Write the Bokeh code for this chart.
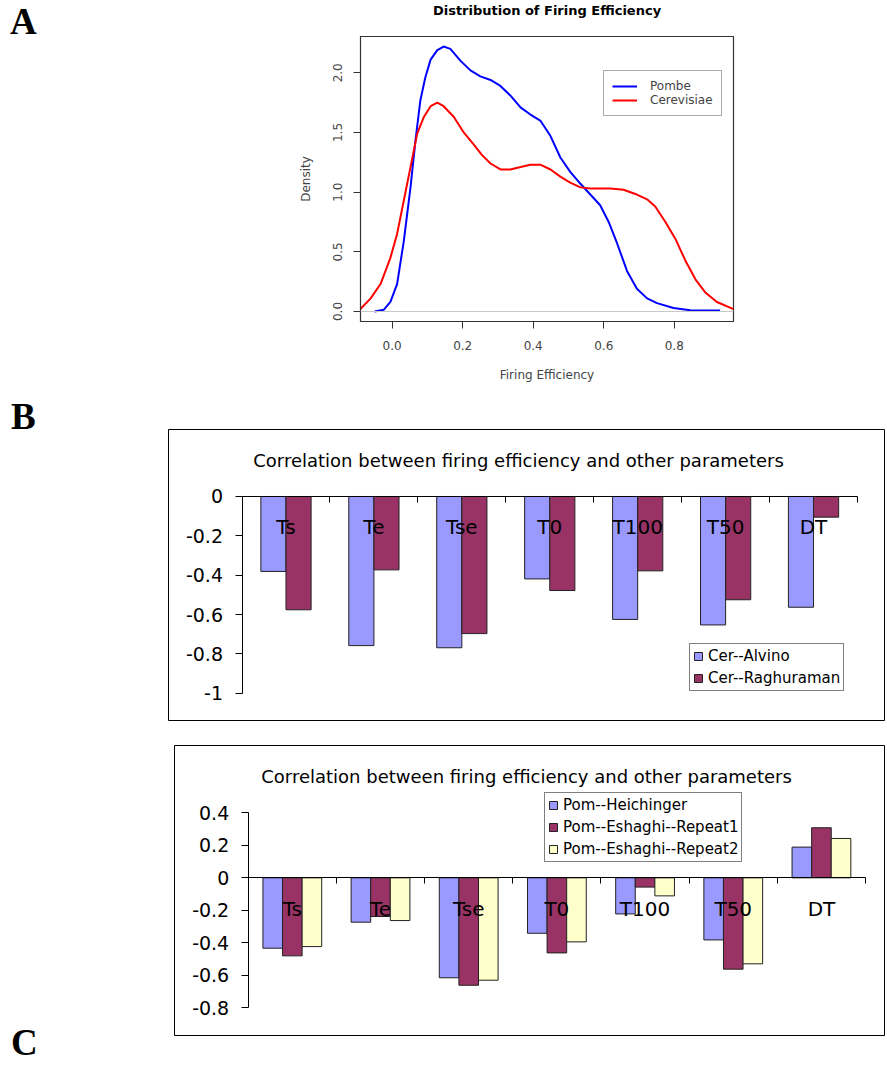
from bokeh.plotting import figure
from bokeh.models import (ColumnDataSource, Range1d, LinearAxis, FixedTicker, NumeralTickFormatter,
                          Legend, LegendItem, Span, Label, Div)
from bokeh.layouts import row, column
from bokeh.transform import dodge
from bokeh.embed import file_html
from bokeh.resources import INLINE

FONT = "DejaVu Sans"

# ---------------- Panel A data: density of firing efficiency ----------------
pombe_x = [-0.05, -0.024, -0.005, 0.014, 0.033, 0.052, 0.066, 0.080, 0.094, 0.109, 0.128, 0.146,
           0.165, 0.194, 0.222, 0.250, 0.279, 0.307, 0.335, 0.364, 0.392, 0.420, 0.449, 0.477,
           0.505, 0.534, 0.562, 0.590, 0.614, 0.638, 0.666, 0.694, 0.723, 0.751, 0.798, 0.845, 0.930]
pombe_y = [0.0, 0.014, 0.08, 0.23, 0.59, 1.04, 1.43, 1.77, 1.96, 2.11, 2.19, 2.22,
           2.20, 2.10, 2.02, 1.97, 1.94, 1.89, 1.81, 1.71, 1.65, 1.60, 1.47, 1.29,
           1.17, 1.07, 0.98, 0.89, 0.75, 0.57, 0.34, 0.19, 0.11, 0.07, 0.03, 0.01, 0.008]
cer_x = [-0.090, -0.061, -0.033, -0.005, 0.014, 0.033, 0.052, 0.071, 0.090, 0.109, 0.128, 0.146,
         0.175, 0.203, 0.231, 0.255, 0.279, 0.307, 0.335, 0.364, 0.392, 0.420, 0.449, 0.477,
         0.505, 0.534, 0.562, 0.619, 0.656, 0.694, 0.723, 0.746, 0.775, 0.803, 0.831, 0.860,
         0.888, 0.921, 0.968]
cer_y = [0.02, 0.11, 0.23, 0.45, 0.65, 0.93, 1.21, 1.49, 1.63, 1.72, 1.75, 1.72,
         1.63, 1.50, 1.40, 1.31, 1.24, 1.19, 1.19, 1.21, 1.23, 1.23, 1.19, 1.13,
         1.08, 1.04, 1.03, 1.03, 1.02, 0.98, 0.94, 0.88, 0.75, 0.61, 0.43, 0.27,
         0.16, 0.08, 0.02]
a_xticks = [0.0, 0.2, 0.4, 0.6, 0.8]
a_yticks = [0.0, 0.5, 1.0, 1.5, 2.0]

# ---------------- Panel B data ----------------
cats = ["Ts", "Te", "Tse", "T0", "T100", "T50", "DT"]
cer_alvino = [-0.381, -0.758, -0.769, -0.419, -0.625, -0.653, -0.563]
cer_ragh = [-0.576, -0.373, -0.697, -0.478, -0.378, -0.525, -0.105]
b_yticks = [-1.0, -0.8, -0.6, -0.4, -0.2, 0.0]

# ---------------- Panel C data ----------------
pom_heich = [-0.433, -0.273, -0.615, -0.341, -0.222, -0.382, 0.189]
pom_esh1 = [-0.480, -0.238, -0.661, -0.462, -0.057, -0.562, 0.308]
pom_esh2 = [-0.423, -0.263, -0.630, -0.394, -0.111, -0.529, 0.242]
c_yticks = [-0.8, -0.6, -0.4, -0.2, 0.0, 0.2, 0.4]

chart_title = "Correlation between firing efficiency and other parameters"

# =============== Panel A ===============
pA = figure(width=825, height=395, output_backend="svg", toolbar_location=None,
            x_range=Range1d(-0.0898, 0.968), y_range=Range1d(-0.0837, 2.304),
            x_axis_location=None, y_axis_location=None,
            min_border_left=300, min_border_right=152, min_border_top=36, min_border_bottom=74,
            outline_line_color="#333333", outline_line_width=1.2)
pA.grid.visible = False
# trailing newline reserves an empty second line so the title sits at the very top
pA.title.text = "Distribution of Firing Efficiency\n"
pA.title.align = "center"
pA.title.vertical_align = "top"
pA.title.standoff = 3
pA.title.text_font = FONT
pA.title.text_font_style = "bold"
pA.title.text_font_size = "13px"
pA.title.text_line_height = 1.0
pA.title.text_color = "black"

pA.add_layout(Span(location=0, dimension="width", line_color="#c8c8c8", line_width=1))
srcP = ColumnDataSource(dict(x=pombe_x, y=pombe_y))
srcC = ColumnDataSource(dict(x=cer_x, y=cer_y))
rP = pA.line("x", "y", source=srcP, line_color="blue", line_width=2)
rC = pA.line("x", "y", source=srcC, line_color="red", line_width=2)

xa = LinearAxis(ticker=FixedTicker(ticks=a_xticks), formatter=NumeralTickFormatter(format="0.0"),
                bounds=(0, 0.8), axis_label="Firing Efficiency")
ya = LinearAxis(ticker=FixedTicker(ticks=a_yticks), formatter=NumeralTickFormatter(format="0.0"),
                bounds=(0, 2.0), axis_label="Density", major_label_orientation="vertical")
for ax in (xa, ya):
    ax.major_tick_out = 7
    ax.major_tick_in = 0
    ax.minor_tick_out = 0
    ax.minor_tick_in = 0
    ax.axis_line_color = "#333333"
    ax.major_tick_line_color = "#333333"
    ax.major_label_text_font = FONT
    ax.major_label_text_font_size = "12px"
    ax.major_label_text_color = "#444444"
    ax.axis_label_text_font = FONT
    ax.axis_label_text_font_size = "12px"
    ax.axis_label_text_font_style = "normal"
    ax.axis_label_text_color = "#444444"
xa.major_label_standoff = 12
xa.axis_label_standoff = 15
ya.major_label_standoff = 11
ya.axis_label_standoff = 18
pA.add_layout(xa, "below")
pA.add_layout(ya, "left")

legA = Legend(items=[LegendItem(label="Pombe", renderers=[rP]),
                     LegendItem(label="Cerevisiae", renderers=[rC])],
              location=(243, 205), padding=8, margin=0, spacing=0,
              glyph_width=25, glyph_height=14, label_height=14, label_standoff=13,
              label_text_font=FONT, label_text_font_size="12px", label_text_color="#444444",
              border_line_color="#555555", border_line_width=1.5)
pA.add_layout(legA)


# =============== bar chart helper ===============
def bar_chart(series, labels, colors, xr, yr, yticks, borders, legend_loc, title_xy):
    ml, mr, mt, mb, h = borders
    p = figure(width=825, height=h, output_backend="svg", toolbar_location=None,
               x_range=Range1d(*xr), y_range=Range1d(*yr),
               x_axis_location=None, y_axis_location=None,
               min_border_left=ml, min_border_right=mr, min_border_top=mt, min_border_bottom=mb,
               outline_line_color="black", outline_line_width=1)
    p.grid.visible = False
    n = len(series)
    w = 1.0 / (n + 1.5)
    data = dict(x=[i + 0.5 for i in range(len(cats))])
    for k, s in enumerate(series):
        data["s%d" % k] = s
    src = ColumnDataSource(data)
    items = []
    for k in range(n):
        off = (k - (n - 1) / 2.0) * w
        r = p.vbar(x=dodge("x", off, range=p.x_range), top="s%d" % k, bottom=0, width=w,
                   source=src, fill_color=colors[k], line_color="#222222", line_width=1)
        items.append(LegendItem(label=labels[k], renderers=[r]))

    yax = LinearAxis(fixed_location=0, ticker=FixedTicker(ticks=yticks),
                     formatter=NumeralTickFormatter(format="0.[0]"),
                     bounds=(min(yticks), max(yticks)))
    yax.major_tick_out = 7
    yax.major_tick_in = 0
    yax.minor_tick_out = 0
    yax.minor_tick_in = 0
    yax.major_label_standoff = 12
    yax.major_label_text_font = FONT
    yax.major_label_text_font_size = "19px"
    yax.major_label_text_color = "black"
    yax.axis_line_color = "black"
    p.add_layout(yax, "left")

    xax = LinearAxis(fixed_location=0,
                     ticker=FixedTicker(ticks=[i + 0.5 for i in range(len(cats))],
                                        minor_ticks=[i + 1 for i in range(len(cats))]),
                     bounds=(0, len(cats)),
                     major_label_overrides={i + 0.5: c for i, c in enumerate(cats)})
    xax.major_tick_out = 0
    xax.major_tick_in = 0
    xax.minor_tick_out = 6
    xax.minor_tick_in = 0
    xax.major_label_standoff = 13
    xax.major_label_text_font = FONT
    xax.major_label_text_font_size = "20px"
    xax.major_label_text_color = "black"
    xax.axis_line_color = "black"
    xax.minor_tick_line_color = "black"
    p.add_layout(xax, "below")

    p.add_layout(Label(x=title_xy[0], y=title_xy[1], text=chart_title, text_align="center",
                       text_baseline="middle", text_font=FONT, text_font_size="18px",
                       text_color="black"))
    leg = Legend(items=items, location=legend_loc, padding=3, margin=0, spacing=4,
                 glyph_width=10, glyph_height=10, label_height=17, label_standoff=5,
                 label_text_font=FONT, label_text_font_size="15px", label_text_color="black",
                 border_line_color="black", border_line_width=1)
    p.add_layout(leg)
    return p


pB = bar_chart([cer_alvino, cer_ragh], ["Cer--Alvino", "Cer--Raghuraman"],
               ["#9999FF", "#993366"], (-0.836, 7.307), (-1.1388, 0.3406), b_yticks,
               (108, 1, 34, 5, 330), (521, 29), (3.145, 0.183))

pC = bar_chart([pom_heich, pom_esh1, pom_esh2],
               ["Pom--Heichinger", "Pom--Eshaghi--Repeat1", "Pom--Eshaghi--Repeat2"],
               ["#9999FF", "#993366", "#FFFFCC"], (-0.836, 7.215), (-0.970, 0.814), c_yticks,
               (114, 1, 20, 32, 342), (370, 173), (3.156, 0.623))


def letter(t, h, top, left):
    html = ('<div style="font-family:\'Liberation Serif\';font-weight:bold;font-size:37px;'
            'line-height:26px;margin-top:%dpx;margin-left:%dpx;color:black">%s</div>' % (top, left, t))
    return Div(text=html, width=60, height=h, margin=0)


layout = column(row(letter("A", 395, 9, 10), pA),
                row(letter("B", 330, 9, 11), pB),
                row(letter("C", 342, 305, 11), pC))

open("out.html", "w").write(file_html(layout, INLINE))
